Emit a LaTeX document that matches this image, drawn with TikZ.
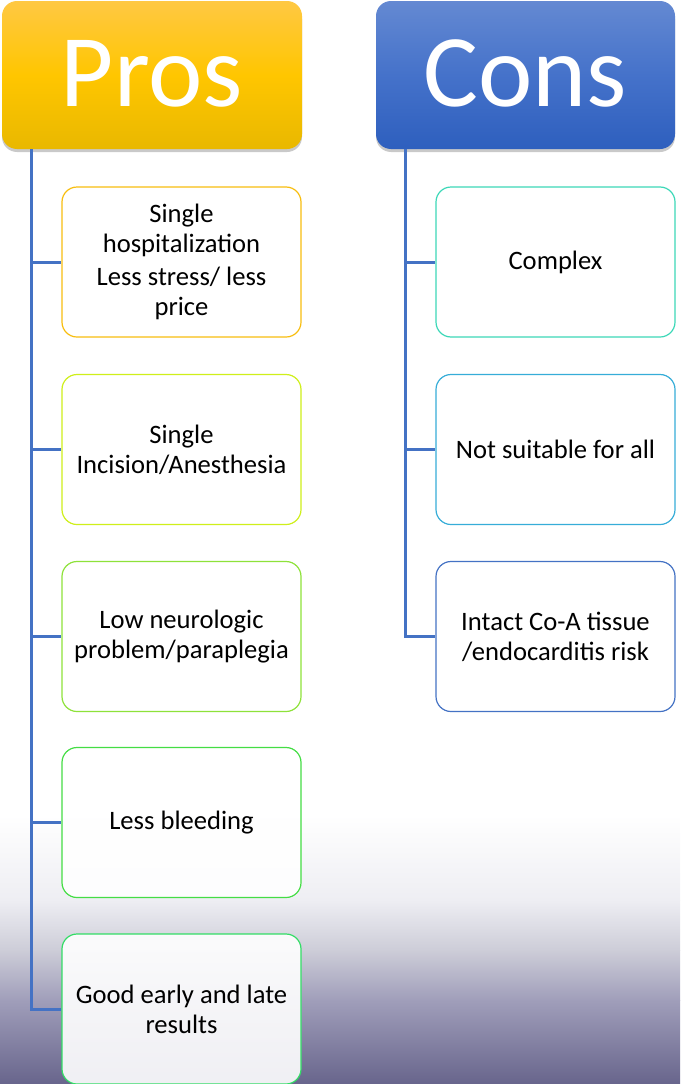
\documentclass[tikz,border=0pt]{standalone}
\usepackage{fontspec}
\setmainfont{Carlito}
\usetikzlibrary{shadows,calc}
\definecolor{connc}{HTML}{4472C4}
\definecolor{bgA}{RGB}{238,238,243}
\definecolor{bgB}{RGB}{205,205,216}
\definecolor{bgC}{RGB}{160,158,186}
\definecolor{bgD}{RGB}{104,101,140}
\definecolor{prosTop}{HTML}{FFC843}
\definecolor{prosMid}{HTML}{FFC600}
\definecolor{prosBot}{HTML}{E9B800}
\definecolor{consTop}{HTML}{6489D2}
\definecolor{consMid}{HTML}{4572CA}
\definecolor{consBot}{HTML}{2E5FBE}
\definecolor{bA}{HTML}{F8BE10}
\definecolor{bB}{HTML}{CFEF1A}
\definecolor{bC}{HTML}{8EE23A}
\definecolor{bD}{HTML}{44DD44}
\definecolor{bE}{HTML}{33DD66}
\definecolor{cA}{HTML}{3CD8B8}
\definecolor{cB}{HTML}{36ADD8}
\definecolor{cC}{HTML}{4472C4}
\tikzset{
  header/.style={rounded corners=15pt, minimum width=#1, minimum height=148pt,
    inner sep=0pt, text=white, font=\fontsize{103}{103}\selectfont,
    drop shadow={shadow xshift=0pt, shadow yshift=-3pt, opacity=0.35, fill=black!60}},
  itembox/.style={draw=#1, line width=1.2pt, rounded corners=15pt, fill=white, fill opacity=0.9,
    text opacity=1, minimum width=239pt, minimum height=150pt, inner sep=0pt,
    align=center, font=\fontsize{26.6}{30}\selectfont, text=black},
  conn/.style={draw=connc, line width=3pt, line join=miter}
}
\begin{document}
\begin{tikzpicture}[x=1pt,y=-1pt]
\useasboundingbox (0,0) rectangle (680,1084);
% background
\fill[white] (0,0) rectangle (680,1084);
\shade[top color=white, bottom color=bgA] (0,815) rectangle (680,900);
\shade[top color=bgA, bottom color=bgB] (0,900) rectangle (680,950);
\shade[top color=bgB, bottom color=bgC] (0,950) rectangle (680,1000);
\shade[top color=bgC, bottom color=bgD] (0,1000) rectangle (680,1084);
% headers
\node[header=300pt, top color=prosTop, bottom color=prosBot, middle color=prosMid] (ph) at (152,75) {\raisebox{3pt}{Pros}};
\node[header=299pt, top color=consTop, bottom color=consBot, middle color=consMid] (ch) at (525.5,75) {\raisebox{3pt}{Cons}};
% boxes
\node[itembox=bA] (p1) at (181.5,262) {Single\\hospitalization\\[3pt]Less stress/ less\\price};
\node[itembox=bB] (p2) at (181.5,449.5) {Single\\Incision/Anesthesia};
\node[itembox=bC] (p3) at (181.5,636.5) {Low neurologic\\problem/paraplegia};
\node[itembox=bD] (p4) at (181.5,822.5) {Less bleeding};
\node[itembox=bE] (p5) at (181.5,1009) {Good early and late\\results};
\node[itembox=cA] (c1) at (555.5,262) {Complex};
\node[itembox=cB] (c2) at (555.5,449.5) {Not suitable for all};
\node[itembox=cC] (c3) at (555.5,636.5) {Intact Co-A tissue\\/endocarditis risk};
% connectors
\coordinate (pt) at ($(ph.south west)+(30,0)$);
\coordinate (ct) at ($(ch.south west)+(30,0)$);
\draw[conn] (pt) |- (p5.west);
\foreach \b in {p1,p2,p3,p4} \draw[conn] (pt |- \b.west) -- (\b.west);
\draw[conn] (ct) |- (c3.west);
\foreach \b in {c1,c2} \draw[conn] (ct |- \b.west) -- (\b.west);
\end{tikzpicture}
\end{document}
